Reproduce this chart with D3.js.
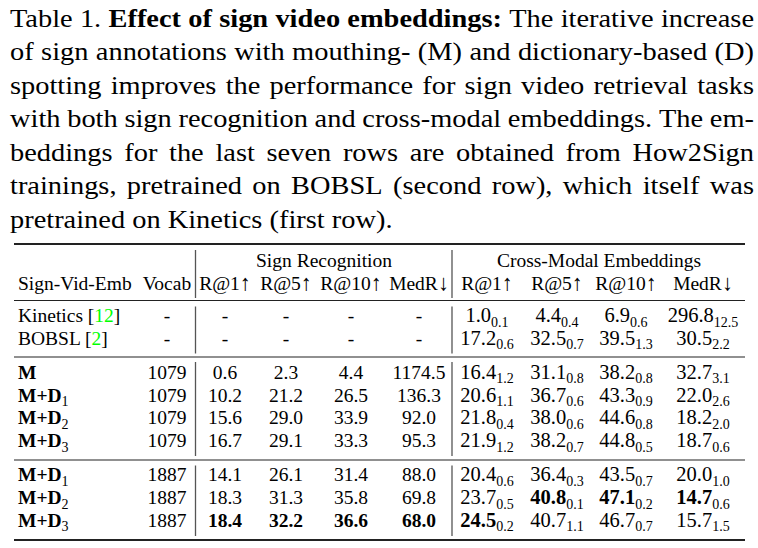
<!DOCTYPE html>
<html>
<head>
<meta charset="utf-8">
<script src="https://cdn.jsdelivr.net/npm/d3@7"></script>
<style>
  html, body { margin: 0; padding: 0; background: #fff; }
  svg { display: block; }
  text { font-family: "Liberation Serif", "Times New Roman", serif; fill: #000; }
</style>
</head>
<body>
<svg id="chart" width="758" height="548"></svg>
<script>
// ---------------- DATA ----------------
const captionLines = [
  [["Table 1.", false], ["Effect of sign video embeddings:", true], ["The iterative increase", false]],
  [["of sign annotations with mouthing- (M) and dictionary-based (D)", false]],
  [["spotting improves the performance for sign video retrieval tasks", false]],
  [["with both sign recognition and cross-modal embeddings. The em-", false]],
  [["beddings for the last seven rows are obtained from How2Sign", false]],
  [["trainings, pretrained on BOBSL (second row), which itself was", false]],
  [["pretrained on Kinetics (first row).", false]]
];
const groupHeaders = ["Sign Recognition", "Cross-Modal Embeddings"];
const columnHeaders = ["Sign-Vid-Emb", "Vocab", "R@1", "R@5", "R@10", "MedR", "R@1", "R@5", "R@10", "MedR"];
const columnArrows  = ["", "", "↑", "↑", "↑", "↓", "↑", "↑", "↑", "↓"];

const methods   = ["Kinetics", "BOBSL", "M", "M+D", "M+D", "M+D", "M+D", "M+D", "M+D"];
const methodSub = ["", "", "", "1", "2", "3", "1", "2", "3"];
const methodCite = ["12", "2", "", "", "", "", "", "", ""];
const rowGroup  = [0, 0, 1, 1, 1, 1, 2, 2, 2];
const vocab     = ["-", "-", "1079", "1079", "1079", "1079", "1887", "1887", "1887"];

const srR1   = ["-", "-", "0.6", "10.2", "15.6", "16.7", "14.1", "18.3", "18.4"];
const srR5   = ["-", "-", "2.3", "21.2", "29.0", "29.1", "26.1", "31.3", "32.2"];
const srR10  = ["-", "-", "4.4", "26.5", "33.9", "33.3", "31.4", "35.8", "36.6"];
const srMedR = ["-", "-", "1174.5", "136.3", "92.0", "95.3", "88.0", "69.8", "68.0"];

const cmR1      = ["1.0", "17.2", "16.4", "20.6", "21.8", "21.9", "20.4", "23.7", "24.5"];
const cmR1Std   = ["0.1", "0.6", "1.2", "1.1", "0.4", "1.2", "0.6", "0.5", "0.2"];
const cmR5      = ["4.4", "32.5", "31.1", "36.7", "38.0", "38.2", "36.4", "40.8", "40.7"];
const cmR5Std   = ["0.4", "0.7", "0.8", "0.6", "0.6", "0.7", "0.3", "0.1", "1.1"];
const cmR10     = ["6.9", "39.5", "38.2", "43.3", "44.6", "44.8", "43.5", "47.1", "46.7"];
const cmR10Std  = ["0.6", "1.3", "0.8", "0.9", "0.8", "0.5", "0.7", "0.2", "0.7"];
const cmMedR    = ["296.8", "30.5", "32.7", "22.0", "18.2", "18.7", "20.0", "14.7", "15.7"];
const cmMedRStd = ["12.5", "2.2", "3.1", "2.6", "2.0", "0.6", "1.0", "0.6", "1.5"];

// best results (bold): [row, column key]
const boldCells = [[8, "srR1"], [8, "srR5"], [8, "srR10"], [8, "srMedR"],
                   [7, "cmR5"], [7, "cmR10"], [7, "cmMedR"], [8, "cmR1"]];

// ---------------- LAYOUT ----------------
const svg = d3.select("#chart");
const capSize = 26, tblSize = 19.5, cmSize = 20.5, subSize = 14;
const capLeft = 10, capRight = 754, capScaleX = 1.093;
const capY = d3.scaleLinear().domain([0, 6]).range([26.7, 228]);

// Caption (justified), slightly stretched horizontally
const capG = svg.append("g").attr("transform", `translate(${capLeft},0) scale(${capScaleX},1)`);
const capW = (capRight - capLeft) / capScaleX;
captionLines.forEach((segs, li) => {
  const words = [];
  segs.forEach(([txt, bold]) => txt.split(" ").forEach(w => words.push({w, bold})));
  const g = capG.append("g");
  const t = g.selectAll("text").data(words).join("text")
    .attr("y", capY(li))
    .style("font-size", capSize + "px")
    .style("font-weight", d => d.bold ? "bold" : "normal")
    .text(d => d.w);
  const widths = t.nodes().map(n => n.getComputedTextLength());
  const total = d3.sum(widths);
  const last = li === captionLines.length - 1;
  const gap = last ? capSize * 0.25 : (capW - total) / (words.length - 1);
  let x = 0;
  t.attr("x", (d, i) => { const xx = x; x += widths[i] + gap; return xx; });
});

// Table scales
const colKeys = ["method", "vocab", "srR1", "srR5", "srR10", "srMedR", "cmR1", "cmR5", "cmR10", "cmMedR"];
const colX = d3.scaleOrdinal().domain(colKeys)
  .range([18, 167, 225, 286, 351, 419, 487, 557, 626, 703]);
const groupX = d3.scaleOrdinal().domain(groupHeaders).range([324, 599]);
const rowStep = 22.8, groupGap = 11.2, firstRow = 322;
const rowY = i => firstRow + i * rowStep + rowGroup[i] * groupGap;

const tbl = svg.append("g").style("font-size", tblSize + "px");

// Rules
const ruleL = 14, ruleR = 745;
const rules = [{y: 244, w: 2}, {y: 300.5, w: 1.1}, {y: 357, w: 1.1}, {y: 460, w: 1.1}, {y: 540, w: 2}];
tbl.selectAll("line.h").data(rules).join("line").attr("class", "h")
  .attr("x1", ruleL).attr("x2", ruleR).attr("y1", d => d.y).attr("y2", d => d.y)
  .attr("stroke", "#222").attr("stroke-width", d => d.w);

// Vertical separators (segments per block)
const vSegs = [[250, 298], [306.5, 353.5], [362, 456], [465.5, 536]];
const vx = [195.5, 452];
vx.forEach(x => {
  tbl.selectAll(null).data(vSegs).join("line")
    .attr("x1", x).attr("x2", x).attr("y1", d => d[0]).attr("y2", d => d[1])
    .attr("stroke", "#555").attr("stroke-width", 1.3);
});

// Group headers
tbl.selectAll("text.gh").data(groupHeaders).join("text").attr("class", "gh")
  .attr("x", d => groupX(d)).attr("y", 267).attr("text-anchor", "middle").text(d => d);

// Column headers
const ch = tbl.selectAll("text.ch").data(columnHeaders).join("text").attr("class", "ch")
  .attr("x", (d, i) => colX(colKeys[i])).attr("y", 290)
  .attr("text-anchor", (d, i) => i === 0 ? "start" : "middle");
ch.append("tspan").text(d => d);
ch.append("tspan").style("font-size", "22px").text((d, i) => columnArrows[i]);

// Method column
const mt = tbl.selectAll("text.m").data(methods).join("text").attr("class", "m")
  .attr("x", colX("method")).attr("y", (d, i) => rowY(i))
  .style("font-weight", (d, i) => rowGroup[i] > 0 ? "bold" : "normal");
mt.each(function(d, i) {
  const t = d3.select(this);
  t.append("tspan").text(d);
  if (methodSub[i]) {
    t.append("tspan").attr("dy", 4.5).style("font-size", subSize + "px").style("font-weight", "normal").text(methodSub[i]);
  }
  if (methodCite[i]) {
    t.append("tspan").text(" [");
    t.append("tspan").style("fill", "#00ff00").text(methodCite[i]);
    t.append("tspan").text("]");
  }
});

const isBold = (r, k) => boldCells.some(b => b[0] === r && b[1] === k);

// Simple centered columns
const simpleCols = {vocab, srR1, srR5, srR10, srMedR};
Object.entries(simpleCols).forEach(([k, vals]) => {
  tbl.selectAll(null).data(vals).join("text")
    .attr("x", colX(k)).attr("y", (d, i) => rowY(i)).attr("text-anchor", "middle")
    .style("font-weight", (d, i) => isBold(i, k) ? "bold" : "normal")
    .text(d => d);
});

// Columns with std subscripts
const subCols = {cmR1: [cmR1, cmR1Std], cmR5: [cmR5, cmR5Std], cmR10: [cmR10, cmR10Std], cmMedR: [cmMedR, cmMedRStd]};
Object.entries(subCols).forEach(([k, [vals, stds]]) => {
  const t = tbl.selectAll(null).data(vals).join("text")
    .attr("x", colX(k)).attr("y", (d, i) => rowY(i)).attr("text-anchor", "middle")
    .style("font-size", cmSize + "px");
  t.append("tspan").style("font-weight", (d, i) => isBold(i, k) ? "bold" : "normal").text(d => d);
  t.append("tspan").attr("dy", 4.5).style("font-size", subSize + "px").text((d, i) => stds[i]);
});
</script>
</body>
</html>
